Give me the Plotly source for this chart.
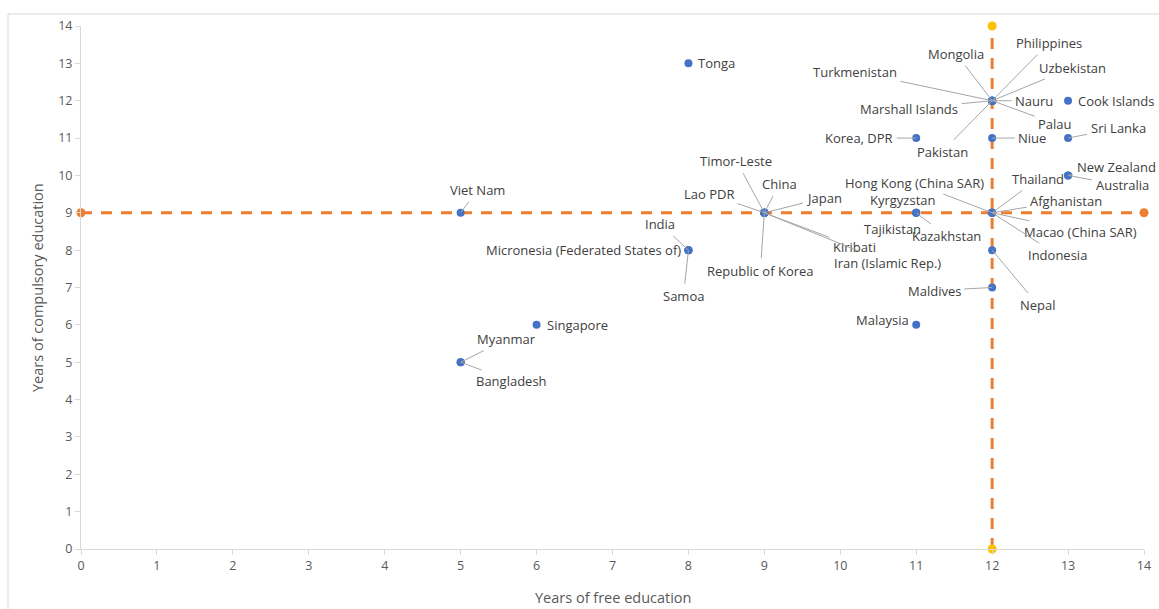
import plotly.graph_objects as go

# Years of free vs compulsory education by country
countries = [
    "Tonga", "Viet Nam", "India", "Micronesia (Federated States of)", "Samoa",
    "Myanmar", "Bangladesh", "Singapore",
    "Timor-Leste", "Lao PDR", "China", "Japan", "Kiribati", "Iran (Islamic Rep.)", "Republic of Korea",
    "Kyrgyzstan", "Tajikistan", "Kazakhstan",
    "Hong Kong (China SAR)", "Thailand", "Afghanistan", "Macao (China SAR)", "Indonesia",
    "Nepal", "Maldives", "Malaysia", "Korea, DPR", "Niue",
    "Philippines", "Mongolia", "Uzbekistan", "Turkmenistan", "Nauru", "Marshall Islands", "Palau", "Pakistan",
    "Cook Islands", "Sri Lanka", "New Zealand", "Australia",
]
free_years = [
    8, 5, 8, 8, 8,
    5, 5, 6,
    9, 9, 9, 9, 9, 9, 9,
    11, 11, 11,
    12, 12, 12, 12, 12,
    12, 12, 11, 11, 12,
    12, 12, 12, 12, 12, 12, 12, 12,
    13, 13, 13, 13,
]
compulsory_years = [
    13, 9, 8, 8, 8,
    5, 5, 6,
    9, 9, 9, 9, 9, 9, 9,
    9, 9, 9,
    9, 9, 9, 9, 9,
    8, 7, 6, 11, 11,
    12, 12, 12, 12, 12, 12, 12, 12,
    12, 11, 10, 10,
]

# Reference lines
h_line_x = [0, 14]
h_line_y = [9, 9]
v_line_x = [12, 12]
v_line_y = [0, 14]

# Label placement: pixel offsets of the label centre from its point (drawn with a leader),
# or a side keyword for labels sitting right beside the point
label_offsets = {
    "Tonga": ("right", 0),
    "Viet Nam": (17, -23),
    "India": (-28, -26),
    "Micronesia (Federated States of)": ("left", 0),
    "Samoa": (-5, 46),
    "Myanmar": (46, -23),
    "Bangladesh": (51, 19),
    "Singapore": ("right", 0),
    "Timor-Leste": (-28, -52),
    "Lao PDR": (-55, -19),
    "China": (15, -29),
    "Japan": (60, -15),
    "Kiribati": (90, 34),
    "Iran (Islamic Rep.)": (123, 50),
    "Republic of Korea": (-4, 58),
    "Kyrgyzstan": ("above", -14),
    "Tajikistan": ("below", -24),
    "Kazakhstan": (30, 23),
    "Hong Kong (China SAR)": (-78, -30),
    "Thailand": (46, -34),
    "Afghanistan": (74, -12),
    "Macao (China SAR)": (88, 19),
    "Indonesia": (65, 42),
    "Nepal": (46, 55),
    "Maldives": (-58, 3),
    "Malaysia": ("left", 5),
    "Korea, DPR": (-57, 0),
    "Niue": (40, 0),
    "Philippines": (57, -58),
    "Mongolia": (-36, -47),
    "Uzbekistan": (80, -33),
    "Turkmenistan": (-137, -29),
    "Nauru": (42, 0),
    "Marshall Islands": (-83, 8),
    "Palau": (63, 23),
    "Pakistan": (-50, 51),
    "Cook Islands": ("right", 0),
    "Sri Lanka": (50, -10),
    "New Zealand": (48, -8),
    "Australia": (54, 10),
}

BLUE = "#4472C4"
ORANGE = "#ED7D31"
GOLD = "#FFC000"
AXIS_GREY = "#D9D9D9"
TEXT_GREY = "#595959"
LABEL_GREY = "#404040"
LEADER_GREY = "#A6A6A6"
FONT = "'Open Sans', 'Noto Sans', sans-serif"

fig = go.Figure()

fig.add_trace(go.Scatter(
    x=h_line_x, y=h_line_y, mode="lines+markers",
    line=dict(color=ORANGE, width=3, dash="11px,9px"),
    marker=dict(color=ORANGE, size=9),
    cliponaxis=False, hoverinfo="skip", showlegend=False,
))
fig.add_trace(go.Scatter(
    x=v_line_x, y=v_line_y, mode="lines+markers",
    line=dict(color=ORANGE, width=3, dash="11px,9px"),
    marker=dict(color=GOLD, size=9),
    cliponaxis=False, hoverinfo="skip", showlegend=False,
))
fig.add_trace(go.Scatter(
    x=free_years, y=compulsory_years, mode="markers", text=countries,
    marker=dict(color=BLUE, size=8),
    cliponaxis=False, showlegend=False,
    hovertemplate="%{text}<br>Free: %{x}<br>Compulsory: %{y}<extra></extra>",
))

label_font = dict(family=FONT, size=13, color=LABEL_GREY)
for name, fx, cy in zip(countries, free_years, compulsory_years):
    off = label_offsets[name]
    if isinstance(off[0], str):
        side, shift = off
        ann = dict(x=fx, y=cy, xref="x", yref="y", text=name, showarrow=False, font=label_font)
        if side == "right":
            ann.update(xanchor="left", xshift=8, yshift=shift)
        elif side == "left":
            ann.update(xanchor="right", xshift=-5, yshift=shift)
        elif side == "above":
            ann.update(xanchor="center", yanchor="bottom", xshift=shift, yshift=2)
        else:
            ann.update(xanchor="center", yanchor="top", xshift=shift, yshift=-5)
        fig.add_annotation(**ann)
    else:
        ax, ay = off
        fig.add_annotation(
            x=fx, y=cy, xref="x", yref="y", text=name, font=label_font,
            showarrow=True, arrowhead=0, arrowwidth=1, arrowcolor=LEADER_GREY,
            ax=ax, ay=ay, standoff=0, startstandoff=2,
        )

axis_common = dict(
    range=[0, 14], dtick=1, tick0=0, showgrid=False, zeroline=False,
    showline=True, linecolor=AXIS_GREY, linewidth=1,
    ticks="outside", ticklen=5, tickcolor=AXIS_GREY,
    tickfont=dict(family=FONT, size=12.5, color=TEXT_GREY),
    fixedrange=True, automargin=False,
)
fig.update_xaxes(**axis_common)
fig.update_yaxes(**axis_common)

W, H = 1159, 609
L, R, T, B = 81, 15, 26, 60
pw, ph = W - L - R, H - T - B

# axis titles
title_font = dict(family=FONT, size=14.5, color=TEXT_GREY)
fig.add_annotation(
    text="Years of free education", xref="paper", yref="paper",
    x=(613 - L) / pw, y=(H - 597 - B) / ph, xanchor="center", yanchor="middle",
    showarrow=False, font=title_font,
)
fig.add_annotation(
    text="Years of compulsory education", xref="paper", yref="paper",
    x=(37 - L) / pw, y=(H - 288 - B) / ph, xanchor="center", yanchor="middle",
    textangle=-90, showarrow=False, font=title_font,
)

# outer chart frame
fig.add_shape(
    type="rect", xref="paper", yref="paper",
    x0=(8 - L) / pw, x1=(W + 10 - L) / pw,
    y0=(H - 630 - B) / ph, y1=(H - 14 - B) / ph,
    line=dict(color=AXIS_GREY, width=1), fillcolor="rgba(0,0,0,0)", layer="below",
)

fig.update_layout(
    width=W, height=H,
    margin=dict(l=L, r=R, t=T, b=B, autoexpand=False),
    paper_bgcolor="white", plot_bgcolor="white",
    font=dict(family=FONT),
    showlegend=False,
)

fig.write_html("out.html")
